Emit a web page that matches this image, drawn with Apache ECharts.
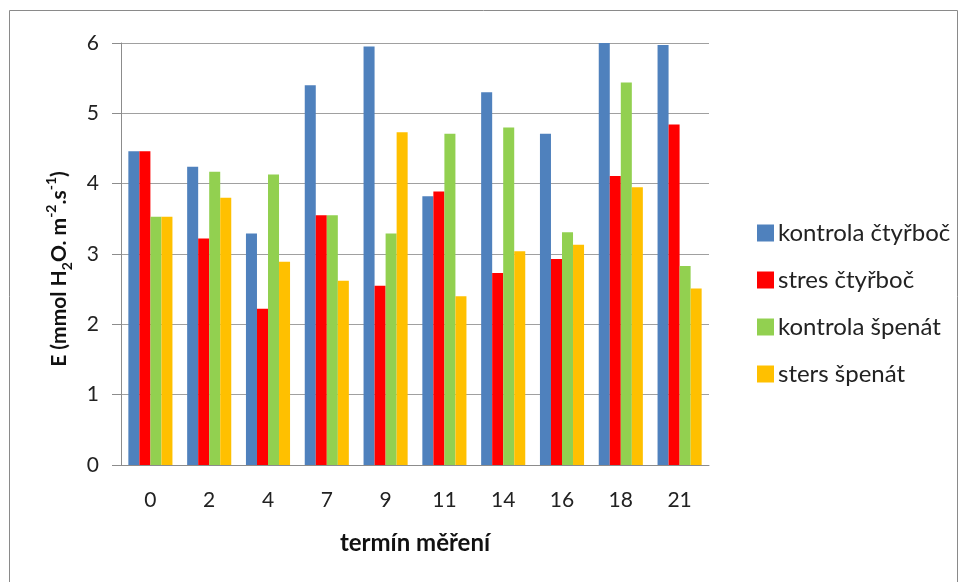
<!DOCTYPE html>
<html>
<head>
<meta charset="utf-8">
<script src="https://cdn.jsdelivr.net/npm/echarts@6/dist/echarts.min.js"></script>
<style>
  html, body { margin: 0; padding: 0; background: #fff; }
  #chart { width: 966px; height: 582px; }
</style>
</head>
<body>
<div id="chart"></div>
<script>
// data
const days = ['0', '2', '4', '7', '9', '11', '14', '16', '18', '21'];
const kontrolaCtyrboc = [4.46, 4.24, 3.29, 5.40, 5.95, 3.82, 5.30, 4.71, 6.00, 5.97];
const stresCtyrboc = [4.46, 3.22, 2.22, 3.55, 2.55, 3.89, 2.73, 2.93, 4.11, 4.84];
const kontrolaSpenat = [3.53, 4.17, 4.13, 3.55, 3.29, 4.71, 4.80, 3.31, 5.44, 2.83];
const stersSpenat = [3.53, 3.80, 2.89, 2.62, 4.73, 2.40, 3.04, 3.13, 3.95, 2.51];

const font = 'Lato, "Noto Sans", sans-serif';
const chart = echarts.init(document.getElementById('chart'));

function bar(name, data, color) {
  return {
    name: name,
    type: 'bar',
    data: data,
    barGap: '0%',
    barCategoryGap: '25%',
    itemStyle: { color: color },
  };
}

chart.setOption({
  animation: false,
  textStyle: { fontFamily: font },
  graphic: [
    {
      type: 'rect',
      shape: { x: 9.5, y: 10.5, width: 948, height: 620 },
      style: { fill: 'none', stroke: '#8a8a8a', lineWidth: 1 },
    },
  ],
  grid: { left: 121, right: 257, top: 43, bottom: 117 },
  legend: {
    orient: 'vertical',
    left: 752,
    top: 216,
    itemWidth: 17,
    itemHeight: 17,
    itemGap: 23,
    icon: 'rect',
    textStyle: { fontSize: 24, color: '#222', fontFamily: font, padding: [0, 0, 0, -1] },
  },
  xAxis: {
    type: 'category',
    data: days,
    name: 'termín měření',
    nameLocation: 'middle',
    nameGap: 66,
    nameTextStyle: { fontSize: 24, fontWeight: 'bold', color: '#111' },
    axisLine: { lineStyle: { color: '#8c8c8c' } },
    axisTick: { show: false },
    axisLabel: { fontSize: 21, color: '#222', margin: 25 },
  },
  yAxis: {
    type: 'value',
    min: 0,
    max: 6,
    interval: 1,
    name: '{b|E (mmol H}{sub|2}{b|O. m}{sup|-2}{b|.s}{sup|-1}{b|)}',
    nameLocation: 'middle',
    nameGap: 47,
    nameRotate: 90,
    nameTextStyle: {
      padding: [0, 30, 0, 0],
      rich: {
        b: { fontSize: 21, fontWeight: 'bold', color: '#111', lineHeight: 30, fontFamily: font },
        sub: { fontSize: 14, fontWeight: 'bold', color: '#111', lineHeight: 14, verticalAlign: 'bottom', fontFamily: font },
        sup: { fontSize: 14, fontWeight: 'bold', color: '#111', lineHeight: 14, verticalAlign: 'top', fontFamily: font },
      },
    },
    axisLine: { show: true, lineStyle: { color: '#8c8c8c' } },
    axisTick: { show: true, length: 9, lineStyle: { color: '#8c8c8c' } },
    axisLabel: { fontSize: 21, color: '#222', margin: 22 },
    splitLine: { lineStyle: { color: '#a0a0a0', width: 1 } },
  },
  series: [
    bar('kontrola čtyřboč', kontrolaCtyrboc, '#4f81bd'),
    bar('stres čtyřboč', stresCtyrboc, '#ff0000'),
    bar('kontrola špenát', kontrolaSpenat, '#92d050'),
    bar('sters špenát', stersSpenat, '#ffc000'),
  ],
});
</script>
</body>
</html>
